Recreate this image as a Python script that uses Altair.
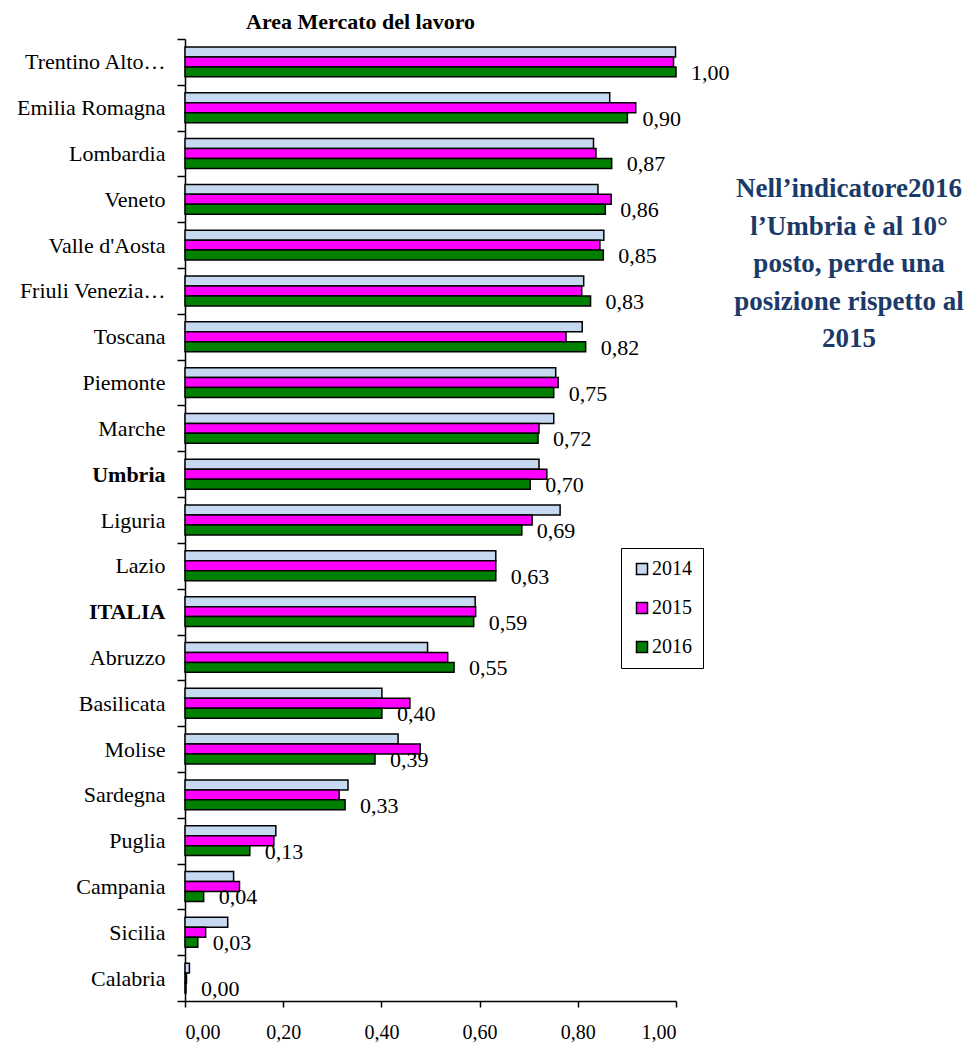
import altair as alt
import pandas as pd

regions = ["Trentino Alto Adige", "Emilia Romagna", "Lombardia", "Veneto", "Valle d'Aosta",
           "Friuli Venezia Giulia", "Toscana", "Piemonte", "Marche", "Umbria", "Liguria",
           "Lazio", "ITALIA", "Abruzzo", "Basilicata", "Molise", "Sardegna", "Puglia",
           "Campania", "Sicilia", "Calabria"]
years = ["2014", "2015", "2016"]
v2014 = [0.999, 0.865, 0.832, 0.841, 0.853, 0.812, 0.809, 0.755, 0.751, 0.721, 0.764,
         0.633, 0.591, 0.494, 0.401, 0.434, 0.332, 0.185, 0.099, 0.087, 0.009]
v2015 = [0.995, 0.918, 0.837, 0.868, 0.845, 0.808, 0.776, 0.760, 0.721, 0.737, 0.707,
         0.633, 0.592, 0.535, 0.458, 0.479, 0.314, 0.181, 0.111, 0.042, 0.003]
v2016 = [1.000, 0.901, 0.869, 0.856, 0.852, 0.826, 0.816, 0.751, 0.719, 0.703, 0.686,
         0.633, 0.588, 0.548, 0.401, 0.387, 0.326, 0.132, 0.038, 0.026, 0.002]
colors = ["#C6D9F0", "#FF00FF", "#008000"]
x_ticks = [0.0, 0.2, 0.4, 0.6, 0.8, 1.0]
note_lines = ["Nell\u2019indicatore2016", "l\u2019Umbria \u00e8 al 10\u00b0",
              "posto, perde una", "posizione rispetto al", "2015"]
title_text = "Area Mercato del lavoro"

rows = []
for yr, vals in zip(years, [v2014, v2015, v2016]):
    for r, v in zip(regions, vals):
        rows.append({"region": r, "year": yr, "value": v})
df = pd.DataFrame(rows)

FONT = "Liberation Serif"

y_enc = alt.Y(
    "region:N", sort=regions,
    scale=alt.Scale(paddingInner=0, paddingOuter=0),
    axis=alt.Axis(
        title=None, tickBand="extent", grid=False, domainColor="black", domainWidth=1.5,
        tickColor="black", tickWidth=1.5, tickSize=8, labelPadding=12,
        labelFont=FONT, labelFontSize=22, labelColor="black", labelLimit=300,
        labelFontWeight={"condition": {"test": "datum.value == 'Umbria' || datum.value == 'ITALIA'",
                                       "value": "bold"}, "value": "normal"},
        labelExpr="datum.value == 'Trentino Alto Adige' ? 'Trentino Alto\u2026' : "
                  "(datum.value == 'Friuli Venezia Giulia' ? 'Friuli Venezia\u2026' : datum.value)",
    ),
)
yoff = alt.YOffset("year:N", sort=years,
                   scale=alt.Scale(domain=years, paddingInner=0, paddingOuter=0.8))
x_enc = alt.X(
    "value:Q", scale=alt.Scale(domain=[0, 1], nice=False),
    axis=alt.Axis(
        title=None, values=x_ticks, grid=False, domainColor="black", domainWidth=1.5,
        tickColor="black", tickWidth=1.5, tickSize=6, labelPadding=15,
        labelFont=FONT, labelFontSize=20, labelColor="black",
        labelExpr="replace(format(datum.value, '.2f'), '.', ',')",
    ),
)

base = alt.Chart(df)

bars = base.mark_bar(stroke="black", strokeWidth=1.5).encode(
    x=x_enc, y=y_enc, yOffset=yoff,
    color=alt.Color(
        "year:N", sort=years, scale=alt.Scale(domain=years, range=colors),
        legend=alt.Legend(
            title=None, orient="none", legendX=436, legendY=509, direction="vertical",
            strokeColor="black", padding=11, rowPadding=19, symbolType="square",
            symbolSize=121, symbolStrokeColor="black", symbolStrokeWidth=1.5,
            symbolOpacity=1, labelFont=FONT, labelFontSize=20, labelColor="black",
            labelOffset=0,
        ),
    ),
)

labels = base.transform_filter("datum.year == '2016'").transform_calculate(
    lab="replace(format(datum.value, '.2f'), '.', ',')"
).mark_text(align="left", baseline="middle", dx=15, dy=1, font=FONT, fontSize=22,
            color="black").encode(
    x=x_enc, y=y_enc, yOffset=yoff, text="lab:N"
)

one = pd.DataFrame({"a": [0]})
note = alt.Chart(one).mark_text(
    text=note_lines, align="center", baseline="alphabetic", font=FONT, fontSize=27,
    fontWeight="bold", color="#1B3A68", lineHeight=37.5,
).encode(x=alt.value(664), y=alt.value(158))

title = alt.Chart(one).mark_text(
    text=title_text, align="left", baseline="alphabetic", font=FONT, fontSize=22,
    fontWeight="bold", color="black",
).encode(x=alt.value(61), y=alt.value(-10))

chart = alt.layer(bars, labels, note, title).properties(
    width=491, height=962,
    background="white",
    padding={"left": 177, "top": 31, "right": 290, "bottom": 41},
    autosize=alt.AutoSizeParams(type="none"),
).configure_view(stroke=None, strokeWidth=0).configure_axis(grid=False)

chart.save("out.html", embed_options={"renderer": "svg", "actions": False})
